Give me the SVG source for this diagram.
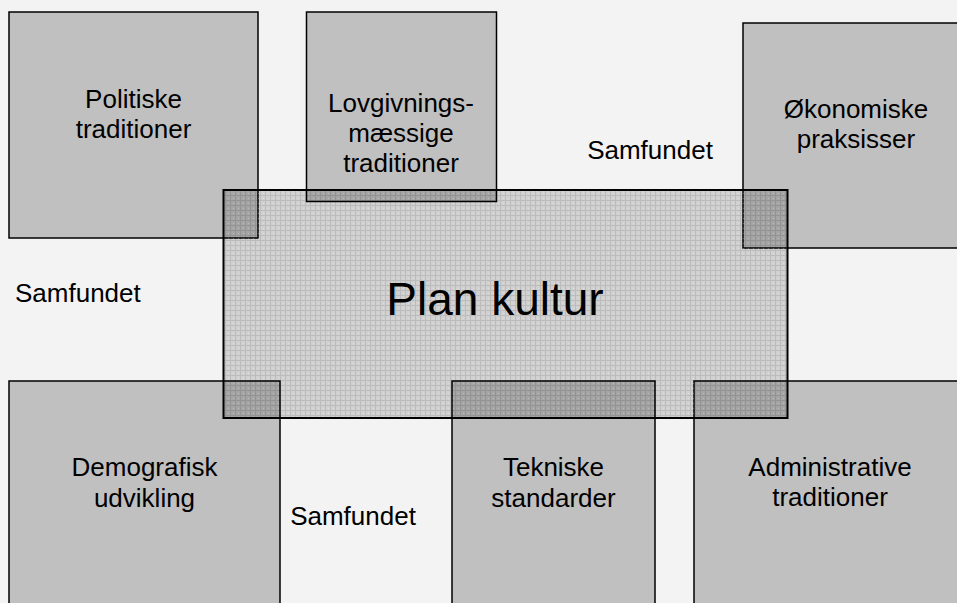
<svg xmlns="http://www.w3.org/2000/svg" width="957" height="603" viewBox="0 0 957 603">
<style>
.box{fill:#c0c0c0;stroke:#000;stroke-width:1.5}
.lbl{font-family:"Liberation Sans",Arial,sans-serif;font-size:26px;fill:#000;text-anchor:middle}
.free{font-family:"Liberation Sans",Arial,sans-serif;font-size:26px;fill:#000}
</style>
<defs>
<pattern id="mesh" width="5" height="5" patternUnits="userSpaceOnUse">
<rect width="5" height="5" fill="#000" fill-opacity="0.14"/>
<rect x="0" y="0" width="5" height="1" fill="#000" fill-opacity="0.1"/>
<rect x="0" y="1" width="1" height="4" fill="#000" fill-opacity="0.1"/>
<rect x="3" y="3" width="1" height="1" fill="#fff" fill-opacity="0.25"/>
</pattern>
</defs>
<rect width="957" height="603" fill="#f3f3f3"/>
<g id="politiske"><rect class="box" x="9" y="12" width="249" height="226"/></g>
<g id="lovgivning"><rect class="box" x="306.5" y="12" width="190" height="189.5"/></g>
<g id="okonomiske"><rect class="box" x="743" y="23" width="230" height="225"/></g>
<g id="demografisk"><rect class="box" x="9" y="381" width="271" height="240"/></g>
<g id="tekniske"><rect class="box" x="452" y="381" width="203" height="240"/></g>
<g id="administrative"><rect class="box" x="694" y="381" width="280" height="240"/></g>
<g id="plankultur"><rect x="223.5" y="190" width="564" height="228" fill="url(#mesh)" stroke="#000" stroke-width="2"/></g>
<g id="connectors"/>
<g id="texts">
<text class="lbl" x="133.5" y="108">Politiske</text>
<text class="lbl" x="133.5" y="138">traditioner</text>
<text class="lbl" x="401" y="112">Lovgivnings-</text>
<text class="lbl" x="401" y="142">mæssige</text>
<text class="lbl" x="401" y="172">traditioner</text>
<text class="lbl" x="856" y="118">Økonomiske</text>
<text class="lbl" x="856" y="148">praksisser</text>
<text class="lbl" x="650" y="159">Samfundet</text>
<text class="free" x="15" y="302">Samfundet</text>
<text class="lbl" x="495" y="315" style="font-size:46px">Plan kultur</text>
<text class="lbl" x="144.5" y="476">Demografisk</text>
<text class="lbl" x="144.5" y="507">udvikling</text>
<text class="lbl" x="353" y="525">Samfundet</text>
<text class="lbl" x="553.5" y="476">Tekniske</text>
<text class="lbl" x="553.5" y="507">standarder</text>
<text class="lbl" x="830" y="476">Administrative</text>
<text class="lbl" x="830" y="506">traditioner</text>
</g>
</svg>
